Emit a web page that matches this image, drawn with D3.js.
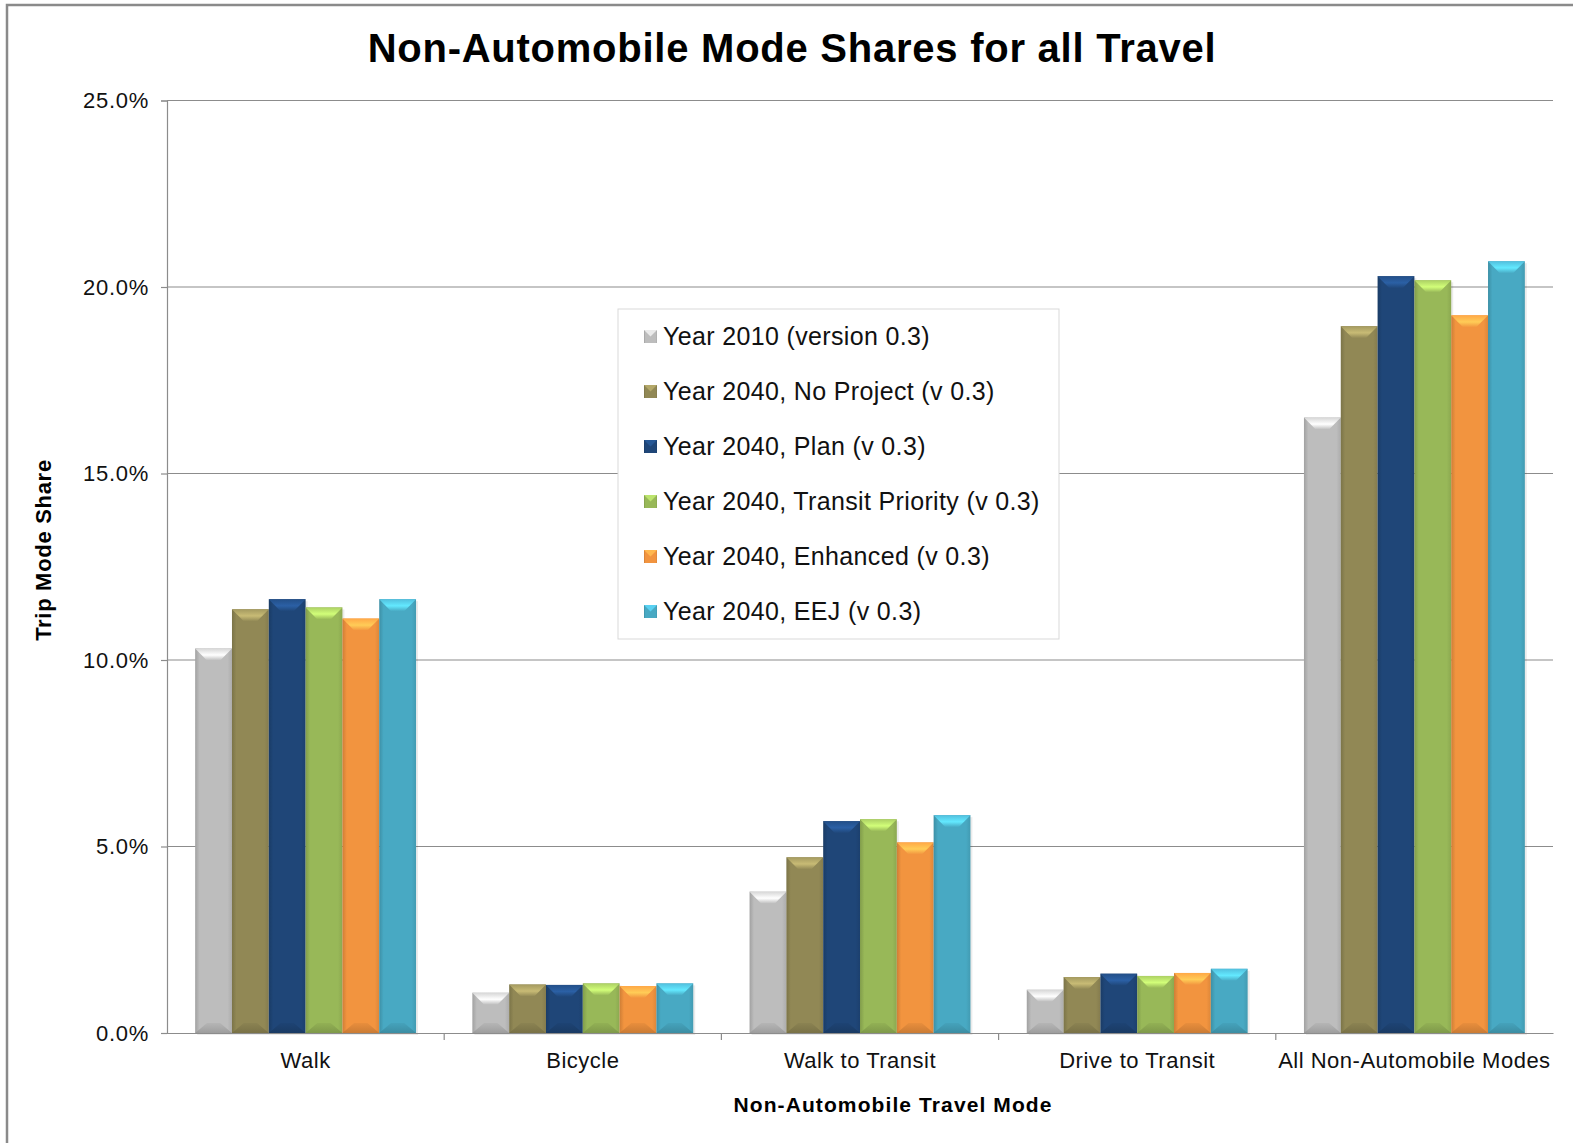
<!DOCTYPE html>
<html>
<head>
<meta charset="utf-8">
<script src="https://cdn.jsdelivr.net/npm/d3@7"></script>
<style>
  body { margin: 0; background: #fff; }
  svg { font-family: "Liberation Sans", Arial, sans-serif; }
</style>
</head>
<body>
<svg id="chart" width="1573" height="1143"></svg>
<script>
const categories = ['Walk', 'Bicycle', 'Walk to Transit', 'Drive to Transit', 'All Non-Automobile Modes'];
const seriesNames = [
  'Year 2010 (version 0.3)',
  'Year 2040, No Project (v 0.3)',
  'Year 2040, Plan (v 0.3)',
  'Year 2040, Transit Priority (v 0.3)',
  'Year 2040, Enhanced (v 0.3)',
  'Year 2040, EEJ (v 0.3)'
];
const colors = ['#bdbdbd', '#918855', '#1f4678', '#98b858', '#f2943f', '#48a9c3'];

// one array per series, values in percent, in category order
const year2010 = [10.31, 1.08, 3.79, 1.16, 16.50];
const noProject = [11.36, 1.30, 4.71, 1.50, 18.95];
const plan = [11.63, 1.29, 5.68, 1.59, 20.29];
const transitPriority = [11.41, 1.33, 5.73, 1.53, 20.18];
const enhanced = [11.11, 1.26, 5.11, 1.61, 19.24];
const eej = [11.63, 1.33, 5.84, 1.72, 20.69];
const seriesValues = [year2010, noProject, plan, transitPriority, enhanced, eej];

const yTicks = [0, 5, 10, 15, 20, 25];

const margin = { top: 100.5, right: 20, bottom: 110, left: 167 };
const W = 1573, H = 1143;

const svg = d3.select('#chart');

// outer frame
svg.append('rect')
  .attr('x', 7).attr('y', 5)
  .attr('width', 1620).attr('height', 1200)
  .attr('fill', '#fff')
  .attr('stroke', '#8a8a8a')
  .attr('stroke-width', 2.5);

const defs = svg.append('defs');
colors.forEach((c, i) => {
  const base = d3.color(c);
  const g = defs.append('linearGradient').attr('id', 'side' + i)
    .attr('x1', 0).attr('x2', 1).attr('y1', 0).attr('y2', 0);
  g.append('stop').attr('offset', '0%').attr('stop-color', base.darker(0.45));
  g.append('stop').attr('offset', '12%').attr('stop-color', base);
  g.append('stop').attr('offset', '88%').attr('stop-color', base);
  g.append('stop').attr('offset', '100%').attr('stop-color', base.darker(0.25));
  const t = defs.append('linearGradient').attr('id', 'top' + i)
    .attr('x1', 0).attr('x2', 0).attr('y1', 0).attr('y2', 1);
  t.append('stop').attr('offset', '0%').attr('stop-color', base.brighter(0.35));
  t.append('stop').attr('offset', '55%').attr('stop-color', base.brighter(0.9));
  t.append('stop').attr('offset', '100%').attr('stop-color', base);
  const b = defs.append('linearGradient').attr('id', 'bot' + i)
    .attr('x1', 0).attr('x2', 0).attr('y1', 0).attr('y2', 1);
  b.append('stop').attr('offset', '0%').attr('stop-color', base.darker(0.15));
  b.append('stop').attr('offset', '100%').attr('stop-color', base.darker(0.7));
});

const x0 = d3.scaleBand()
  .domain(categories)
  .range([margin.left, W - margin.right])
  .padding(0);

const x1 = d3.scaleBand()
  .domain(d3.range(seriesNames.length))
  .range([0, x0.bandwidth()])
  .paddingInner(0)
  .paddingOuter(0.765);

const y = d3.scaleLinear()
  .domain([0, 25])
  .range([H - margin.bottom, margin.top]);

// gridlines
svg.append('g')
  .selectAll('line')
  .data(yTicks.filter(d => d > 0))
  .join('line')
  .attr('x1', margin.left).attr('x2', W - margin.right)
  .attr('y1', d => y(d)).attr('y2', d => y(d))
  .attr('stroke', '#8c8c8c').attr('stroke-width', 1.2);

// y axis
const yAxis = svg.append('g')
  .attr('transform', `translate(${margin.left},0)`)
  .call(d3.axisLeft(y).tickValues(yTicks).tickSize(6).tickPadding(12)
    .tickFormat(d => d.toFixed(1) + '%'));
yAxis.select('.domain').attr('stroke', '#8c8c8c').attr('stroke-width', 1.2);
yAxis.selectAll('.tick line').attr('stroke', '#8c8c8c').attr('stroke-width', 1.2);
yAxis.selectAll('.tick text').attr('font-size', 22).attr('fill', '#111')
  .attr('letter-spacing', 0.7)
  .attr('font-family', '"Liberation Sans", Arial, sans-serif');

// bars
const groups = svg.append('g')
  .selectAll('g')
  .data(categories)
  .join('g')
  .attr('transform', d => `translate(${x0(d)},0)`);

const bars = groups.selectAll('g.bar')
  .data((cat, ci) => seriesValues.map((vals, si) => ({ si, v: vals[ci] })))
  .join('g')
  .attr('class', 'bar');

const bw = x1.bandwidth();

bars.append('rect')
  .attr('x', d => x1(d.si) + 2).attr('y', d => y(d.v) + 2)
  .attr('width', bw).attr('height', d => y(0) - y(d.v))
  .attr('fill', '#000').attr('opacity', 0.08);

bars.append('rect')
  .attr('x', d => x1(d.si)).attr('y', d => y(d.v))
  .attr('width', bw).attr('height', d => y(0) - y(d.v))
  .attr('fill', d => `url(#side${d.si})`);

// top bevel
bars.append('path')
  .attr('d', d => {
    const xl = x1(d.si), xr = xl + bw, yt = y(d.v);
    const h = Math.min(12, (y(0) - yt) / 2);
    const ins = bw * 0.32;
    return `M${xl},${yt}L${xr},${yt}L${xr - ins},${yt + h}L${xl + ins},${yt + h}Z`;
  })
  .attr('fill', d => `url(#top${d.si})`);

// bottom bevel
bars.append('path')
  .attr('d', d => {
    const xl = x1(d.si), xr = xl + bw, yb = y(0);
    const h = Math.min(10, (yb - y(d.v)) / 2);
    const ins = bw * 0.32;
    return `M${xl},${yb}L${xl + ins},${yb - h}L${xr - ins},${yb - h}L${xr},${yb}Z`;
  })
  .attr('fill', d => `url(#bot${d.si})`)
  .attr('opacity', 0.75);

// x axis
const xAxis = svg.append('g')
  .attr('transform', `translate(0,${y(0)})`)
  .call(d3.axisBottom(x0).tickSize(0).tickPadding(19));
xAxis.select('.domain').attr('stroke', '#8c8c8c').attr('stroke-width', 1.2);
xAxis.selectAll('.tick text').attr('font-size', 22).attr('fill', '#111')
  .attr('letter-spacing', 0.5)
  .attr('font-family', '"Liberation Sans", Arial, sans-serif');
xAxis.selectAll('line.sep')
  .data(categories.slice(1))
  .join('line')
  .attr('class', 'sep')
  .attr('x1', d => x0(d)).attr('x2', d => x0(d))
  .attr('y1', 0).attr('y2', 7)
  .attr('stroke', '#8c8c8c').attr('stroke-width', 1.2);

// title
svg.append('text')
  .attr('x', 792).attr('y', 62)
  .attr('text-anchor', 'middle')
  .attr('font-size', 40).attr('font-weight', 'bold').attr('fill', '#000')
  .attr('letter-spacing', 0.75)
  .text('Non-Automobile Mode Shares for all Travel');

// axis titles
svg.append('text')
  .attr('x', 893).attr('y', 1112)
  .attr('text-anchor', 'middle')
  .attr('font-size', 21).attr('font-weight', 'bold').attr('fill', '#000')
  .attr('letter-spacing', 1.1)
  .text('Non-Automobile Travel Mode');

svg.append('text')
  .attr('transform', 'translate(51,550) rotate(-90)')
  .attr('text-anchor', 'middle')
  .attr('font-size', 22).attr('font-weight', 'bold').attr('fill', '#000')
  .attr('letter-spacing', 0.7)
  .text('Trip Mode Share');

// legend
const legend = svg.append('g').attr('transform', 'translate(618,309)');
legend.append('rect')
  .attr('width', 441).attr('height', 330)
  .attr('fill', '#fff').attr('stroke', '#d9d9d9').attr('stroke-width', 1);

const items = legend.selectAll('g.item')
  .data(seriesNames)
  .join('g')
  .attr('class', 'item')
  .attr('transform', (d, i) => `translate(26,${27 + i * 55})`);

items.append('rect')
  .attr('x', 0).attr('y', -6).attr('width', 13).attr('height', 13)
  .attr('fill', (d, i) => `url(#side${i})`);
items.append('path')
  .attr('d', 'M0,-6L13,-6L6.5,0.5Z')
  .attr('fill', (d, i) => d3.color(colors[i]).brighter(0.6));

items.append('text')
  .attr('x', 19).attr('y', 0)
  .attr('dy', '0.36em')
  .attr('font-size', 25).attr('fill', '#111')
  .attr('letter-spacing', 0.35)
  .text(d => d);
</script>
</body>
</html>
